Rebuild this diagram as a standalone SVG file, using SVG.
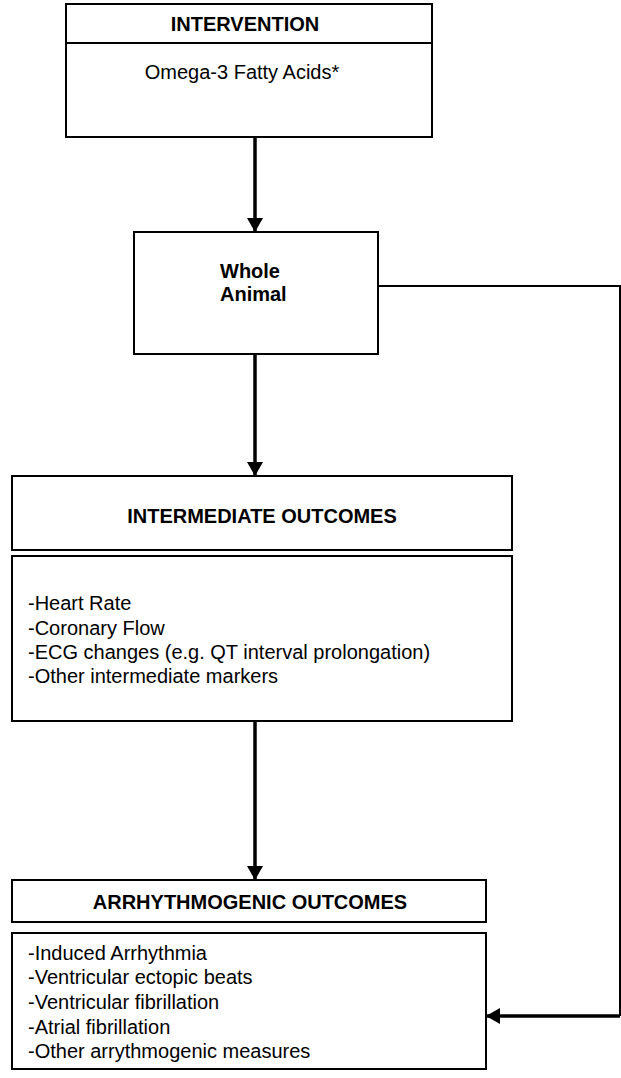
<svg xmlns="http://www.w3.org/2000/svg" width="621" height="1078" viewBox="0 0 621 1078">
<style>
.box{fill:#fff;stroke:#000;stroke-width:2}
.h{font-family:"Liberation Sans",Arial,sans-serif;font-weight:bold;font-size:20px;fill:#000}
.t{font-family:"Liberation Sans",Arial,sans-serif;font-size:20px;fill:#000}
.c{stroke:#000;stroke-width:3.5;fill:none}
</style>
<defs>
<marker id="ah" markerUnits="userSpaceOnUse" markerWidth="16" markerHeight="16" refX="14" refY="8" orient="auto">
<path d="M0,0 L14,8 L0,16 Z" fill="#000"/>
</marker>
</defs>
<rect width="621" height="1078" fill="#fff"/>
<g id="intervention">
<rect class="box" x="66" y="4" width="366" height="133"/>
<line x1="66" y1="43" x2="432" y2="43" stroke="#000" stroke-width="2"/>
<text class="h" x="245" y="31" text-anchor="middle">INTERVENTION</text>
<text class="t" x="242" y="79" text-anchor="middle">Omega-3 Fatty Acids*</text>
</g>
<g id="whole-animal">
<rect class="box" x="134" y="232" width="244" height="122"/>
<text class="h" x="220" y="278">Whole</text>
<text class="h" x="220" y="301">Animal</text>
</g>
<g id="intermediate">
<rect class="box" x="12" y="476" width="500" height="74"/>
<text class="h" x="262" y="523" text-anchor="middle">INTERMEDIATE OUTCOMES</text>
<rect class="box" x="12" y="556" width="500" height="165"/>
<text class="t" x="28" y="610">-Heart Rate</text>
<text class="t" x="28" y="635">-Coronary Flow</text>
<text class="t" x="28" y="659">-ECG changes (e.g. QT interval prolongation)</text>
<text class="t" x="28" y="683">-Other intermediate markers</text>
</g>
<g id="arrhythmogenic">
<rect class="box" x="12" y="880" width="474" height="42"/>
<text class="h" x="250" y="909" text-anchor="middle">ARRHYTHMOGENIC OUTCOMES</text>
<rect class="box" x="12" y="933" width="474" height="136"/>
<text class="t" x="28" y="960">-Induced Arrhythmia</text>
<text class="t" x="28" y="984">-Ventricular ectopic beats</text>
<text class="t" x="28" y="1009">-Ventricular fibrillation</text>
<text class="t" x="28" y="1034">-Atrial fibrillation</text>
<text class="t" x="28" y="1058">-Other arrythmogenic measures</text>
</g>
<g id="connectors">
<line class="c" x1="255" y1="137" x2="255" y2="232" marker-end="url(#ah)"/>
<line class="c" x1="255" y1="354" x2="255" y2="476" marker-end="url(#ah)"/>
<line class="c" x1="255" y1="721" x2="255" y2="880" marker-end="url(#ah)"/>
<polyline points="378,286 620,286 620,1016" fill="none" stroke="#000" stroke-width="2"/>
<line class="c" x1="620" y1="1016" x2="486" y2="1016" marker-end="url(#ah)"/>
</g>
</svg>
